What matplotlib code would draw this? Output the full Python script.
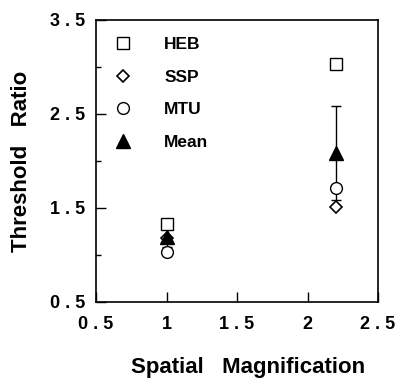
import matplotlib
matplotlib.use('Agg')
import matplotlib.pyplot as plt

magnification = [1.0, 2.2]
heb = [1.33, 3.03]
ssp = [1.18, 1.51]
mtu = [1.03, 1.71]
mean = [1.19, 2.08]
mean_err = [0.10, 0.50]

xticks = [0.5, 1, 1.5, 2, 2.5]
xtick_labels = ['0 . 5', '1', '1 . 5', '2', '2 . 5']
yticks = [0.5, 1.5, 2.5, 3.5]
ytick_labels = ['0 . 5', '1 . 5', '2 . 5', '3 . 5']

plt.rcParams['font.family'] = 'Liberation Sans'
plt.rcParams['font.weight'] = 'bold'

fig = plt.figure(figsize=(3.97, 3.82), dpi=100)
ax = fig.add_axes([96/397, 1 - 302/382, 282/397, 282/382])

ax.errorbar(magnification, mean, yerr=mean_err, fmt='none', ecolor='black',
            elinewidth=1, capsize=3.5, capthick=1, zorder=2)
ax.plot(magnification, heb, 's', ms=8, mfc='white', mec='black', mew=1, zorder=3, label='HEB')
ax.plot(magnification, ssp, 'D', ms=6, mfc='white', mec='black', mew=1.2, zorder=3, label='SSP')
ax.plot(magnification, mtu, 'o', ms=8.5, mfc='white', mec='black', mew=1, zorder=4, label='MTU')
ax.plot(magnification, mean, '^', ms=9.5, mfc='black', mec='black', zorder=5, label='Mean')

ax.set_xlim(0.5, 2.5)
ax.set_ylim(0.5, 3.5)
ax.set_xticks(xticks)
ax.set_xticklabels(xtick_labels, fontsize=13, fontweight='bold')
ax.set_yticks(yticks)
ax.set_yticklabels(ytick_labels, fontsize=13, fontweight='bold')
ax.set_yticks([1.0, 2.0, 3.0], minor=True)
ax.tick_params(axis='both', which='major', direction='in', length=7, width=1)
ax.tick_params(axis='x', which='major', pad=10)
ax.tick_params(axis='y', which='major', pad=8)
ax.tick_params(axis='y', which='minor', direction='in', length=3.5, width=1)
for s in ax.spines.values():
    s.set_linewidth(1.2)

ax.set_xlabel('Spatial   Magnification', fontsize=16, fontweight='bold')
ax.xaxis.set_label_coords(0.54, -0.195)
ax.set_ylabel('Threshold   Ratio', fontsize=16, fontweight='bold', labelpad=13)

ax.legend(loc='upper left', frameon=False, fontsize=12.5, handletextpad=1.6,
          labelspacing=1.0, borderaxespad=0.1, handlelength=1.5,
          bbox_to_anchor=(0.02, 0.97))

fig.savefig('out.png', dpi=100)
